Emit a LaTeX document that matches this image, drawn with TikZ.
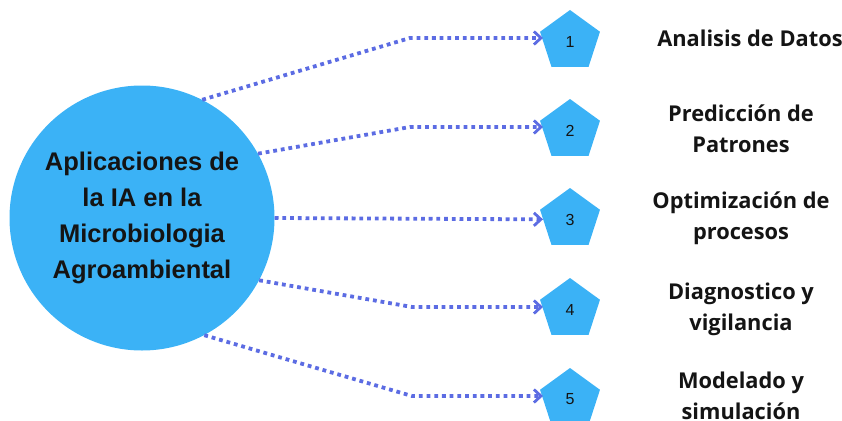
\documentclass[tikz,border=0pt]{standalone}
\usepackage{fontspec}
\setmainfont{Open Sans}
\newfontfamily\hubfont{Liberation Sans}
\usetikzlibrary{shapes.geometric,arrows.meta}
\definecolor{skyfill}{HTML}{3BB2F6}
\definecolor{linkblue}{HTML}{5C6CE3}
\definecolor{inktext}{HTML}{141414}
\begin{document}
\begin{tikzpicture}[x=1pt,y=-1pt,
  hub/.style={circle,fill=skyfill,minimum size=265pt,inner sep=0pt,
    align=center,text=inktext,
    font=\hubfont\bfseries\fontsize{25.5}{36}\selectfont},
  penta/.style={regular polygon,regular polygon sides=5,fill=skyfill,
    minimum size=63pt,inner sep=0pt,text=inktext,
    font=\hubfont\fontsize{16}{18}\selectfont},
  itemlabel/.style={align=center,text=inktext,
    font=\bfseries\fontsize{21.8}{31}\selectfont},
  link/.style={linkblue,line width=3.8pt,dash pattern=on 3.8pt off 3.9pt,
    -{Straight Barb[length=7pt,width=13pt,line width=2.8pt]}}
]
\useasboundingbox (0,0) rectangle (842,420);

% central topic
\node[hub] (hub) at (142,218) {Aplicaciones de\\la IA en la\\Microbiologia\\Agroambiental};

% numbered steps
\node[penta] (p1) at (570,41.5) {1};
\node[penta] (p2) at (570,130.5) {2};
\node[penta] (p3) at (570,219.5) {3};
\node[penta] (p4) at (570,309.5) {4};
\node[penta] (p5) at (570,399.5) {5};

% step captions
\node[itemlabel] (t1) at (750,38) {Analisis de Datos};
\node[itemlabel] (t2) at (741,128.5) {Predicción de\\Patrones};
\node[itemlabel] (t3) at (741,218) {Optimización de\\procesos};
\node[itemlabel] (t4) at (741,309) {Diagnostico y\\vigilancia};
\node[itemlabel] (t5) at (741,396) {Modelado y\\simulación};

% bends of the connectors
\coordinate (b1) at (410,38);
\coordinate (b2) at (410,127);
\coordinate (b4) at (412,307);
\coordinate (b5) at (412,396);

\draw[link] (hub.63) -- (b1) -- (b1 -| p1.west);
\draw[link] (hub.29) -- (b2) -- (b2 -| p2.west);
\draw[link] (hub.east) -- (p3);
\draw[link] (hub.-28) -- (b4) -- (b4 -| p4.west);
\draw[link] (hub.-62) -- (b5) -- (b5 -| p5.west);
\end{tikzpicture}
\end{document}
